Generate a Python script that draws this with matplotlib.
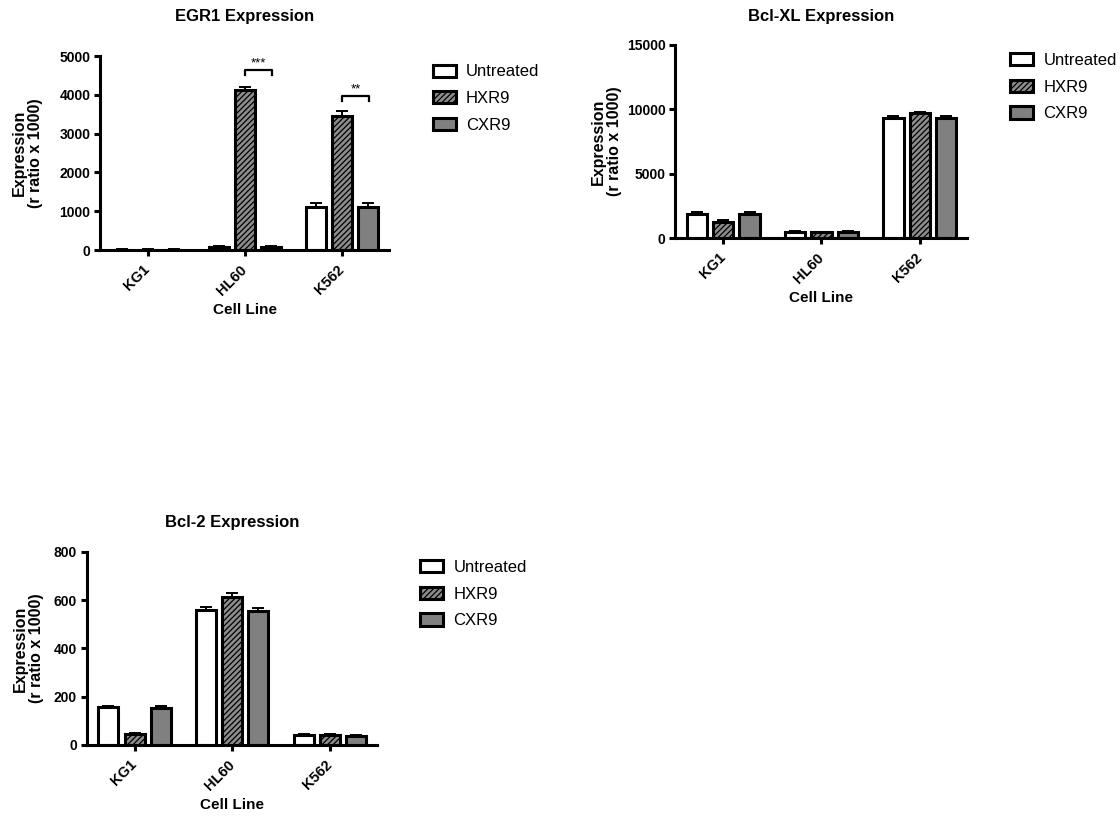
import matplotlib
matplotlib.use("Agg")
import matplotlib.pyplot as plt
import matplotlib.patches as mpatches
import numpy as np

plt.rcParams['font.family'] = ['Liberation Sans', 'DejaVu Sans']
plt.rcParams['hatch.linewidth'] = 0.9

# ---- data -------------------------------------------------------------
cell_lines = ['KG1', 'HL60', 'K562']
treatments = ['Untreated', 'HXR9', 'CXR9']

# EGR1 expression (r ratio x 1000): mean and SEM per treatment, per cell line
egr1_untreated = [10, 75, 1120]
egr1_hxr9 = [10, 4130, 3460]
egr1_cxr9 = [10, 75, 1120]
egr1_untreated_err = [3, 30, 85]
egr1_hxr9_err = [3, 75, 115]
egr1_cxr9_err = [3, 30, 85]

# Bcl-XL expression
bclxl_untreated = [1870, 500, 9300]
bclxl_hxr9 = [1220, 460, 9740]
bclxl_cxr9 = [1870, 500, 9300]
bclxl_untreated_err = [130, 40, 150]
bclxl_hxr9_err = [150, 40, 70]
bclxl_cxr9_err = [120, 40, 150]

# Bcl-2 expression
bcl2_untreated = [156, 558, 41]
bcl2_hxr9 = [45, 614, 41]
bcl2_cxr9 = [155, 556, 38]
bcl2_untreated_err = [6, 14, 5]
bcl2_hxr9_err = [4, 14, 3]
bcl2_cxr9_err = [5, 12, 4]

# significance brackets on the EGR1 panel: (cell line index, y level, label)
egr1_sig_lines = [1, 2]
egr1_sig_levels = [4640, 3980]
egr1_sig_labels = ['***', '**']

# ---- styling ----------------------------------------------------------
styles = {
    'Untreated': dict(facecolor='white', hatch=None),
    'HXR9': dict(facecolor='#8c8c8c', hatch='//////'),
    'CXR9': dict(facecolor='#808080', hatch=None),
}
EDGE_LW = 2.2
BAR_W = 0.205
OFFSET = 0.268

W, H = 1120, 818
fig = plt.figure(figsize=(W / 100, H / 100), dpi=100)


def axes_px(left, top, right, bottom):
    return fig.add_axes([left / W, 1 - bottom / H, (right - left) / W, (bottom - top) / H])


def draw_panel(ax, title, title_pad, means, errs, ymax, ystep, ylabel_x, legend_xy):
    x = np.arange(len(cell_lines))
    for i, (name, m, e) in enumerate(zip(treatments, means, errs)):
        pos = x + (i - 1) * OFFSET
        st = styles[name]
        ax.bar(pos, m, width=BAR_W, facecolor=st['facecolor'], hatch=st['hatch'],
               edgecolor='black', linewidth=EDGE_LW, zorder=2)
        ax.errorbar(pos, m, yerr=[np.zeros(len(e)), e], fmt='none', ecolor='black',
                    elinewidth=1.4, capsize=4, capthick=1.4, zorder=3)

    ax.set_xlim(-0.49, 2.48)
    ax.set_ylim(0, ymax)
    ax.set_yticks(np.arange(0, ymax + 1, ystep))
    ax.set_xticks(x)
    ax.set_xticklabels(cell_lines, rotation=45, ha='right', va='center',
                       rotation_mode='anchor', fontweight='bold', fontsize=10.5)
    for lbl in ax.get_yticklabels():
        lbl.set_fontweight('bold')
        lbl.set_fontsize(10)

    for side in ('top', 'right'):
        ax.spines[side].set_visible(False)
    for side in ('left', 'bottom'):
        ax.spines[side].set_linewidth(EDGE_LW)
    ax.tick_params(axis='both', direction='out', length=4.5, width=EDGE_LW)
    ax.tick_params(axis='y', pad=2.4)
    ax.tick_params(axis='x', pad=8)

    ax.set_title(title, fontsize=12, fontweight='bold', pad=title_pad)
    ax.set_ylabel('Expression\n(r ratio x 1000)', fontsize=11.5, fontweight='bold',
                  linespacing=1.1)
    ax.yaxis.set_label_coords(ylabel_x, 0.5)
    ax.set_xlabel('Cell Line', fontsize=11, fontweight='bold')
    ax.xaxis.set_label_coords(0.5, -0.275)

    handles = [mpatches.Patch(facecolor=styles[t]['facecolor'], hatch=styles[t]['hatch'],
                              edgecolor='black', linewidth=EDGE_LW) for t in treatments]
    ax.legend(handles, treatments, loc='upper left',
              bbox_to_anchor=(legend_xy[0] / W, 1 - legend_xy[1] / H),
              bbox_transform=fig.transFigure, frameon=False, borderpad=0,
              borderaxespad=0, handlelength=1.4, handleheight=0.75,
              handletextpad=0.6, labelspacing=0.7, fontsize=12)


ax1 = axes_px(100, 56, 389, 250)
draw_panel(ax1, 'EGR1 Expression', 25.5,
           [egr1_untreated, egr1_hxr9, egr1_cxr9],
           [egr1_untreated_err, egr1_hxr9_err, egr1_cxr9_err],
           5000, 1000, -0.197, (432.5, 64.5))

# significance brackets between HXR9 and CXR9
leg = 130
for ci, level, label in zip(egr1_sig_lines, egr1_sig_levels, egr1_sig_labels):
    x0, x1 = ci, ci + OFFSET + 0.01
    ax1.plot([x0, x0, x1, x1], [level - leg, level, level, level - leg],
             color='black', lw=1.6, clip_on=False, zorder=4)
    ax1.text((x0 + x1) / 2, level + 90, label, ha='center', va='baseline',
             fontsize=9.5)

ax2 = axes_px(675, 45, 967, 238)
draw_panel(ax2, 'Bcl-XL Expression', 17.5,
           [bclxl_untreated, bclxl_hxr9, bclxl_cxr9],
           [bclxl_untreated_err, bclxl_hxr9_err, bclxl_cxr9_err],
           15000, 5000, -0.18, (1010, 53))

ax3 = axes_px(86.7, 551.7, 376.7, 745)
draw_panel(ax3, 'Bcl-2 Expression', 18,
           [bcl2_untreated, bcl2_hxr9, bcl2_cxr9],
           [bcl2_untreated_err, bcl2_hxr9_err, bcl2_cxr9_err],
           800, 200, -0.147, (420, 560))

fig.savefig('out.png', dpi=100, facecolor='white')
